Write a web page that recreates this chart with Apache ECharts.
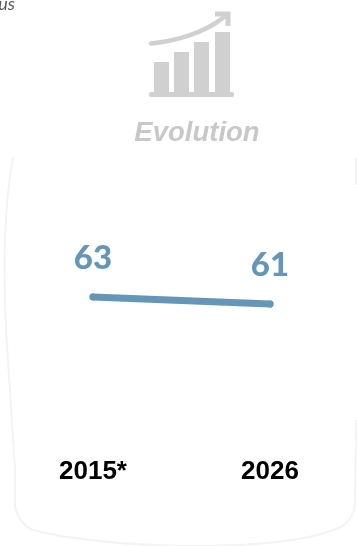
<!DOCTYPE html>
<html><head><meta charset="utf-8">
<style>html,body{margin:0;padding:0;background:#fff}#c{width:357px;height:546px}</style>
<script src="https://cdn.jsdelivr.net/npm/echarts@6/dist/echarts.min.js"></script>
</head><body><div id="c"></div>
<script>
const categories = ['2015*', '2026'];
const values = [63, 61];
const grey = '#d0d0d0';
const frameColor = '#f3f3f3';
function shape(name, d) {
  echarts.graphic.registerShape(name, echarts.graphic.extendPath(d, {}));
}
shape('arrowCurve', 'M151 43.5 C175 41 205 33 224 17');
shape('arrowHead', 'M215 14 L228 14 L228 26');
shape('frameMain', 'M13 158 C8 185 5 215 4.5 260 C4.5 300 6 330 7 346 L15 470 L15 506 C17 518 25 527 33 530 L60 536 C100 542 150 546 190 546 C240 546 300 543 333 530 C343 528 352 520 355 506 L356 420');
shape('frameTop', 'M356 158 L356 185');
const chart = echarts.init(document.getElementById('c'), null, {renderer: 'canvas'});
chart.setOption({
  animation: false,
  backgroundColor: '#fff',
  grid: {left: 93, right: 87, top: 202.5, bottom: 98.5},
  xAxis: {type: 'category', data: categories, boundaryGap: false,
    axisLine: {show: false}, axisTick: {show: false}, splitLine: {show: false},
    axisLabel: {color: '#000', fontFamily: 'Liberation Sans', fontWeight: 'bold', fontSize: 26, margin: 11, interval: 0}},
  yAxis: {type: 'value', min: 20, max: 90, show: false},
  series: [{type: 'line', data: values, symbol: 'circle', symbolSize: 7, showSymbol: true,
    itemStyle: {color: '#6596b8'},
    lineStyle: {color: '#6596b8', width: 7, cap: 'round'},
    label: {show: true, position: 'top', distance: 19, color: '#6596b8', fontFamily: 'Lato', fontWeight: 900, fontSize: 33}}],
  graphic: [
    {type: 'text', x: 15, y: 13, style: {text: 'Plus', fill: '#595959', font: 'italic 18px Lato', align: 'right', verticalAlign: 'bottom'}},
    {type: 'text', x: 197, y: 133, style: {text: 'Evolution', fill: '#c8c8c8', font: 'italic bold 27.5px "Liberation Sans"', align: 'center', verticalAlign: 'middle'}},
    {type: 'rect', shape: {x: 154, y: 62, width: 15, height: 32}, style: {fill: grey}},
    {type: 'rect', shape: {x: 174, y: 52, width: 15, height: 42}, style: {fill: grey}},
    {type: 'rect', shape: {x: 194, y: 42, width: 15, height: 52}, style: {fill: grey}},
    {type: 'rect', shape: {x: 215, y: 32, width: 15, height: 62}, style: {fill: grey}},
    {type: 'rect', shape: {x: 149, y: 92, width: 85, height: 5, r: 2}, style: {fill: grey}},
    {type: 'arrowCurve', style: {fill: 'none', stroke: grey, lineWidth: 4.5, lineCap: 'round'}},
    {type: 'arrowHead', style: {fill: 'none', stroke: grey, lineWidth: 5}},
    {type: 'frameMain', style: {fill: 'none', stroke: frameColor, lineWidth: 2}, z: -1},
    {type: 'frameTop', style: {fill: 'none', stroke: frameColor, lineWidth: 2}, z: -1}
  ]
});
</script></body></html>
